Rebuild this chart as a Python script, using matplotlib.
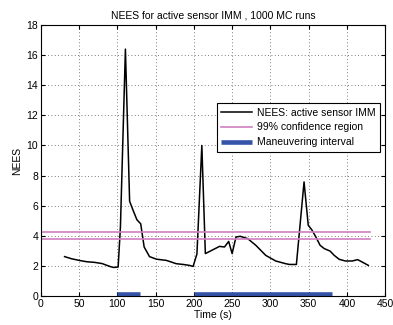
import numpy as np
import matplotlib
matplotlib.use('Agg')
import matplotlib.pyplot as plt

plt.rcParams['font.family'] = ['Liberation Sans', 'DejaVu Sans']

# NEES curve
t = [31, 40, 51, 60, 70, 80, 90, 95, 101, 104, 110.5, 116, 120.5, 125.5, 130.5, 135, 142,
     151, 164, 177, 186, 194, 199, 204, 210.4, 215, 225, 233.5, 240, 245.5, 250, 255, 260.5,
     270.5, 281, 294, 307, 320, 325, 334, 344, 349.5, 354, 359.5, 365, 370.5, 378, 383.5,
     390, 398, 407, 414, 420, 428]
nees = [2.62, 2.48, 2.36, 2.28, 2.24, 2.16, 1.97, 1.9, 1.93, 4.6, 16.4, 6.3, 5.7, 5.07, 4.8,
        3.26, 2.62, 2.45, 2.37, 2.15, 2.1, 2.04, 1.97, 2.8, 10.0, 2.82, 3.08, 3.3, 3.26, 3.63,
        2.82, 3.92, 3.97, 3.81, 3.37, 2.7, 2.33, 2.15, 2.1, 2.1, 7.58, 4.7, 4.41, 3.92, 3.37,
        3.15, 2.99, 2.7, 2.44, 2.33, 2.33, 2.42, 2.26, 2.04]

conf_t = [0, 430]
conf_lo = 3.77
conf_hi = 4.23

maneuvers = [(100, 130), (200, 380)]
maneuver_level = 0.15

fig = plt.figure(figsize=(3.93, 3.25), dpi=100)
ax = fig.add_axes([0.104, 0.089, 0.876, 0.834])

ax.plot(t, nees, color='black', lw=1.1, label='NEES: active sensor IMM')
ax.plot(conf_t, [conf_hi, conf_hi], color='#d07fc0', lw=1.2, label='99% confidence region')
ax.plot(conf_t, [conf_lo, conf_lo], color='#d07fc0', lw=1.2)
for i, (a, b) in enumerate(maneuvers):
    ax.plot([a, b], [maneuver_level, maneuver_level], color='#3352a8', lw=3.3,
            solid_capstyle='butt', label='Maneuvering interval' if i == 0 else None)

ax.set_xlim(0, 450)
ax.set_ylim(0, 18)
ax.set_xticks(np.arange(0, 451, 50))
ax.set_yticks(np.arange(0, 19, 2))
ax.grid(True, linestyle=(0, (1, 3)), color='#555555', lw=0.6)
ax.tick_params(direction='in', top=True, right=True, labelsize=7.5, length=3, pad=2)
for s in ax.spines.values():
    s.set_linewidth(0.8)

ax.set_title('NEES for active sensor IMM , 1000 MC runs', fontsize=7.5, pad=5)
ax.set_xlabel('Time (s)', fontsize=7.5, labelpad=1)
ax.set_ylabel('NEES', fontsize=7.5, labelpad=3)

leg = ax.legend(loc='upper right', bbox_to_anchor=(0.985, 0.712), fontsize=7.5,
                fancybox=False, framealpha=1, edgecolor='black', borderpad=0.45,
                handlelength=3.0, handletextpad=0.4, labelspacing=0.45, borderaxespad=0)
leg.get_frame().set_linewidth(0.8)

plt.savefig('out.png', dpi=100)
plt.close()
